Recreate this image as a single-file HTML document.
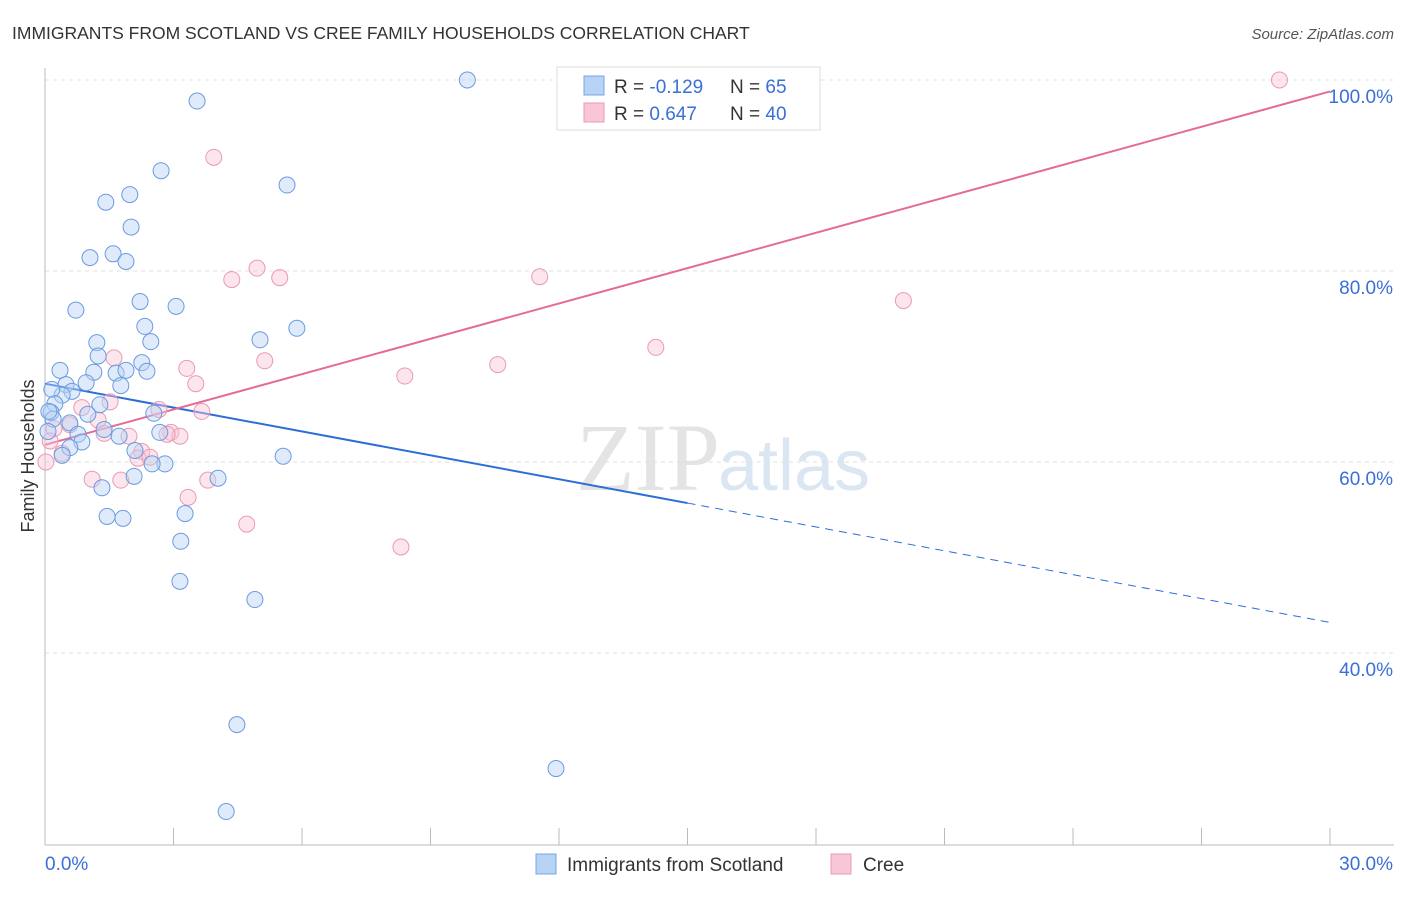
<!DOCTYPE html>
<html><head><meta charset="utf-8"><style>
body{margin:0;background:#fff;font-family:"Liberation Sans",sans-serif}
</style></head><body>
<svg id="c" width="1406" height="892" xmlns="http://www.w3.org/2000/svg">
<text x="12" y="39" font-size="17.5" fill="#333">IMMIGRANTS FROM SCOTLAND VS CREE FAMILY HOUSEHOLDS CORRELATION CHART</text>
<text x="1394" y="39" font-size="15" fill="#555" font-style="italic" text-anchor="end">Source: ZipAtlas.com</text>
<text x="720" y="490" font-size="96" fill="#e4e4e4" text-anchor="end" font-family="Liberation Serif,serif">ZIP</text>
<text x="718" y="490" font-size="72" fill="#dbe6f3">atlas</text>
<g id="grid"></g><g id="axes"></g><g id="trend"></g><g id="pts"></g>
<text x="34" y="456" font-size="18" fill="#333" text-anchor="middle" transform="rotate(-90 34 456)">Family Households</text>
<g>
<rect x="557" y="67" width="263" height="63" fill="#fff" stroke="#ddd"/>
<rect x="584" y="76" width="20" height="19" fill="#b7d3f5" stroke="#7aa6e0"/>
<rect x="584" y="103" width="20" height="19" fill="#f8c6d6" stroke="#e89ab5"/>
<text x="614" y="93" font-size="19" fill="#333">R = <tspan fill="#3a6fd8">-0.129</tspan></text>
<text x="730" y="93" font-size="19" fill="#333">N = <tspan fill="#3a6fd8">65</tspan></text>
<text x="614" y="120" font-size="19" fill="#333">R = <tspan fill="#3a6fd8"> 0.647</tspan></text>
<text x="730" y="120" font-size="19" fill="#333">N = <tspan fill="#3a6fd8">40</tspan></text>
</g>
<g>
<rect x="536" y="854" width="20" height="20" fill="#b7d3f5" stroke="#7aa6e0"/>
<text x="567" y="871" font-size="19" fill="#333">Immigrants from Scotland</text>
<rect x="831" y="854" width="20" height="20" fill="#f8c6d6" stroke="#e89ab5"/>
<text x="863" y="871" font-size="19" fill="#333">Cree</text>
</g>
</svg>
<script>
const xTickLabels=["0.0%","30.0%"];
const yTicks=[40,60,80,100];
const yTickLabels=["40.0%","60.0%","80.0%","100.0%"];
const blueX=[9.86,3.55,2.71,5.65,1.98,1.42,2.01,1.59,1.05,1.89,2.22,3.06,0.72,5.88,2.33,5.02,1.21,2.47,1.24,2.26,0.35,1.14,1.66,1.89,2.38,1.77,0.49,0.96,0.63,0.40,0.16,0.23,1.28,1.00,0.14,0.19,0.58,2.54,1.38,0.77,1.73,2.68,0.86,0.58,0.40,2.10,2.80,2.50,5.56,2.08,4.04,1.33,3.27,1.45,1.82,3.17,3.15,4.90,4.48,11.93,4.23,0.09,0.07];
const blueY=[100,97.8,90.5,89.0,88.0,87.2,84.6,81.8,81.4,81.0,76.8,76.3,75.9,74.0,74.2,72.8,72.5,72.6,71.1,70.4,69.6,69.4,69.3,69.6,69.5,68.0,68.1,68.3,67.4,67.0,67.6,66.1,66.0,65.0,65.2,64.5,64.1,65.1,63.4,62.9,62.7,63.1,62.1,61.5,60.7,61.2,59.8,59.8,60.6,58.5,58.3,57.3,54.6,54.3,54.1,51.7,47.5,45.6,32.5,27.9,23.4,65.3,63.2];
const pinkX=[13.72,28.82,3.94,4.95,4.36,5.48,11.55,20.04,14.26,10.57,1.61,3.31,5.13,8.40,3.52,1.52,0.86,3.66,2.66,1.24,0.58,0.21,1.38,1.96,2.94,3.15,2.85,2.26,2.17,2.45,0.02,1.10,1.77,3.80,3.34,4.71,8.31,0.40,0.12];
const pinkY=[100,100,91.9,80.3,79.1,79.3,79.4,76.9,72.0,70.2,70.9,69.8,70.6,69.0,68.2,66.3,65.7,65.3,65.5,64.4,63.9,63.5,63.0,62.7,63.1,62.7,62.9,61.1,60.4,60.5,60.0,58.2,58.1,58.1,56.3,53.5,51.1,60.9,62.2];
const blueTrend=[[0,68.2],[15,55.7],[30,43.2]];
const pinkTrend=[[0,61.8],[30,98.8]];
const sx=v=>45+v/30*1285, sy=v=>80+(100-v)*9.55;
const NS="http://www.w3.org/2000/svg";
function mk(p,t,a){const e=document.createElementNS(NS,t);for(const k in a)e.setAttribute(k,a[k]);p.appendChild(e);return e;}
const grid=document.getElementById('grid'),axes=document.getElementById('axes'),tr=document.getElementById('trend'),pts=document.getElementById('pts');
yTicks.forEach((t,i)=>{
 const l=mk(grid,'line',{x1:45,x2:1394,y1:sy(t),y2:sy(t),stroke:'#e0e0e0','stroke-dasharray':'4,4'});
 
 
 const tx=mk(axes,'text',{x:1393,y:sy(t)+23,'font-size':19,fill:'#3a6fd8','text-anchor':'end'});
 tx.textContent=yTickLabels[i];
 
 
});
const ya=mk(axes,'line',{x1:45,x2:45,y1:68,y2:845,stroke:'#bbb'});


const xa=mk(axes,'line',{x1:45,x2:1394,y1:845,y2:845,stroke:'#bbb'});


for(let i=0;i<=10;i++){const t=mk(axes,'line',{x1:sx(i*3),x2:sx(i*3),y1:828,y2:845,stroke:'#bbb'});
 
 }
[[0,'start'],[30,'end']].forEach((d,i)=>{const t=mk(axes,'text',{x:i?1393:45,y:870,'font-size':19,fill:'#3a6fd8','text-anchor':d[1]});
 t.textContent=xTickLabels[i];
 
 });
function addPts(X,Y,fill,stroke,name){X.forEach((x,i)=>{const c=mk(pts,'circle',{cx:sx(x),cy:sy(Y[i]),r:8,fill:fill,'fill-opacity':0.45,stroke:stroke,'stroke-width':1});
 
 });}
addPts(pinkX,pinkY,'#f8c6d6','#e89ab5','cree-point');
addPts(blueX,blueY,'#b7d3f5','#6a9be0','scotland-point');
const b1=mk(tr,'line',{x1:sx(blueTrend[0][0]),y1:sy(blueTrend[0][1]),x2:sx(blueTrend[1][0]),y2:sy(blueTrend[1][1]),stroke:'#2b6fd6','stroke-width':2});


const b2=mk(tr,'line',{x1:sx(blueTrend[1][0]),y1:sy(blueTrend[1][1]),x2:sx(blueTrend[2][0]),y2:sy(blueTrend[2][1]),stroke:'#2b6fd6','stroke-width':1,'stroke-dasharray':'8,6'});


const p1=mk(tr,'line',{x1:sx(pinkTrend[0][0]),y1:sy(pinkTrend[0][1]),x2:sx(pinkTrend[1][0]),y2:sy(pinkTrend[1][1]),stroke:'#e56a96','stroke-width':2});


</script>
</body></html>
